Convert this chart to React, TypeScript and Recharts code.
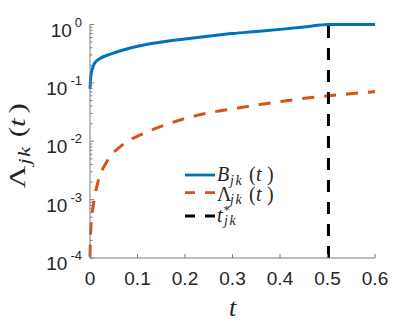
import React from "react";
import { LineChart, Line, XAxis, YAxis, Legend } from "recharts";

// B_jk(t)
const bTimes = [0, 0.0015, 0.005, 0.01, 0.021, 0.04, 0.07, 0.1, 0.147, 0.2, 0.253, 0.3, 0.35, 0.4, 0.45, 0.502, 0.55, 0.6];
const bValues = [0.079, 0.126, 0.175, 0.219, 0.262, 0.305, 0.366, 0.423, 0.495, 0.565, 0.635, 0.7, 0.76, 0.825, 0.905, 1.0, 1.0, 1.0];

// Lambda_jk(t)
const lamTimes = [0, 0.0015, 0.007, 0.016, 0.035, 0.067, 0.112, 0.158, 0.2, 0.253, 0.312, 0.361, 0.41, 0.456, 0.502, 0.547, 0.6];
const lamValues = [1.05e-4, 3e-4, 8e-4, 1.9e-3, 4.4e-3, 8.5e-3, 0.0135, 0.019, 0.0245, 0.031, 0.037, 0.043, 0.049, 0.055, 0.06, 0.065, 0.071];

// t*_jk vertical marker
const tStar = 0.502;
const tStarRange = [1e-4, 1];

const xTicks = [0, 0.1, 0.2, 0.3, 0.4, 0.5, 0.6];
const yDecades = [1e-4, 1e-3, 1e-2, 1e-1, 1];

const bData = bTimes.map((t, i) => ({ t, v: bValues[i] }));
const lamData = lamTimes.map((t, i) => ({ t, v: lamValues[i] }));
const starData = tStarRange.map((v) => ({ t: tStar, v }));

// log axis minor ticks (2..9 per decade)
const yTicks: number[] = [];
yDecades.forEach((d, i) => {
  yTicks.push(d);
  if (i < yDecades.length - 1) for (let m = 2; m <= 9; m++) yTicks.push(m * d);
});

const AXIS = "#7d7d7d";
const TXT = "#262626";
const SANS = "'Liberation Sans', Arial, Helvetica, sans-serif";
const SERIF = "'Liberation Serif', 'Times New Roman', serif";

const isDecade = (v: number) => Math.abs(Math.log10(v) - Math.round(Math.log10(v))) < 1e-6;

const LeftTick = ({ x, y, payload }: any) => {
  const v = payload.value;
  const major = isDecade(v);
  return (
    <g>
      <line x1={x} x2={x + (major ? 4 : 2.5)} y1={y} y2={y} stroke={AXIS} />
      {major && (
        <text x={x - 8} y={y + 12} textAnchor="end" fontFamily={SANS} fontSize={19} fill={TXT}>
          10
          <tspan dx={3} dy={-10} fontSize={13}>
            {Math.round(Math.log10(v))}
          </tspan>
        </text>
      )}
    </g>
  );
};

const RightTick = ({ x, y, payload }: any) => (
  <line x1={x} x2={x - (isDecade(payload.value) ? 4 : 2.5)} y1={y} y2={y} stroke={AXIS} />
);

const BottomTick = ({ x, y, payload }: any) => (
  <g>
    <line x1={x} x2={x} y1={y} y2={y - 4} stroke={AXIS} />
    <text x={x} y={y + 27} textAnchor="middle" fontFamily={SANS} fontSize={19} fill={TXT}>
      {payload.value}
    </text>
  </g>
);

const TopTick = ({ x, y }: any) => <line x1={x} x2={x} y1={y} y2={y + 4} stroke={AXIS} />;

const YLabel = ({ viewBox }: any) => {
  const bx = viewBox.x + 25;
  const by = viewBox.y + viewBox.height / 2 + 47;
  return (
    <text
      transform={`translate(${bx},${by}) rotate(-90) scale(1.35,1)`}
      fontFamily={SERIF}
      fontSize={23}
      fill={TXT}
    >
      <tspan x={0} y={0}>Λ</tspan>
      <tspan x={17.5} y={5} fontSize={17} fontStyle="italic" letterSpacing={1}>jk</tspan>
      <tspan x={37.8} y={0}>(</tspan>
      <tspan x={45.3} y={0} fontStyle="italic">t</tspan>
      <tspan x={55.3} y={0}>)</tspan>
    </text>
  );
};

const XLabel = ({ viewBox }: any) => (
  <text x={viewBox.x + viewBox.width / 2} y={viewBox.y + 58} textAnchor="middle" fontFamily={SERIF} fontSize={26} fontStyle="italic" fill={TXT}>
    t
  </text>
);

const legendLabels = [
  (y: number) => (
    <text y={y} fontFamily={SERIF} fontSize={20} fill={TXT}>
      <tspan x={37} fontStyle="italic">B</tspan>
      <tspan x={50} dy={3.5} fontSize={14} fontStyle="italic" letterSpacing={1.5}>jk</tspan>
      <tspan x={69} dy={-3.5}>(</tspan>
      <tspan x={76} fontStyle="italic">t</tspan>
      <tspan x={87}>)</tspan>
    </text>
  ),
  (y: number) => (
    <text y={y} fontFamily={SERIF} fontSize={20} fill={TXT}>
      <tspan x={37}>Λ</tspan>
      <tspan x={50} dy={3.5} fontSize={14} fontStyle="italic" letterSpacing={1.5}>jk</tspan>
      <tspan x={69} dy={-3.5}>(</tspan>
      <tspan x={76} fontStyle="italic">t</tspan>
      <tspan x={87}>)</tspan>
    </text>
  ),
  (y: number) => (
    <text y={y} fontFamily={SERIF} fontSize={20} fill={TXT}>
      <tspan x={37} fontStyle="italic">t</tspan>
      <tspan x={43.5} dy={-8} fontSize={13}>*</tspan>
      <tspan x={44} dy={11} fontSize={14} fontStyle="italic" letterSpacing={1.5}>jk</tspan>
    </text>
  ),
];
const legendLineY = [15, 32.7, 56];
const legendTextY = [21, 40.7, 61.7];

const renderLegend = ({ payload }: any) => (
  <svg width={110} height={75} style={{ overflow: "visible" }}>
    {(payload || []).map((entry: any, i: number) => (
      <g key={`leg-${i}`}>
        <line
          x1={5}
          x2={35}
          y1={legendLineY[i]}
          y2={legendLineY[i]}
          stroke={entry.color}
          strokeWidth={2.8}
          strokeDasharray={i === 0 ? undefined : "10 10"}
        />
        {legendLabels[i](legendTextY[i])}
      </g>
    ))}
  </svg>
);

export default function App() {
  return (
    <div style={{ position: "absolute", left: 0, top: 0, width: 415, height: 328, background: "#fff" }}>
      <LineChart width={415} height={328} margin={{ top: 24.5, right: 40, bottom: 0, left: 0 }}>
        <XAxis
          type="number"
          dataKey="t"
          domain={[0, 0.6]}
          ticks={xTicks}
          interval={0}
          height={70}
          tickSize={0}
          tickMargin={0}
          tickLine={false}
          axisLine={{ stroke: AXIS }}
          tick={(p: any) => <BottomTick {...p} />}
          label={(p: any) => <XLabel {...p} />}
        />
        <XAxis
          xAxisId="top"
          orientation="top"
          type="number"
          dataKey="t"
          domain={[0, 0.6]}
          ticks={xTicks}
          interval={0}
          height={0}
          tickSize={0}
          tickMargin={0}
          tickLine={false}
          axisLine={{ stroke: AXIS }}
          tick={(p: any) => <TopTick {...p} />}
        />
        <YAxis
          type="number"
          scale="log"
          domain={[1e-4, 1]}
          ticks={yTicks}
          interval={0}
          width={90}
          tickSize={0}
          tickMargin={0}
          tickLine={false}
          axisLine={{ stroke: AXIS }}
          tick={(p: any) => <LeftTick {...p} />}
          label={(p: any) => <YLabel {...p} />}
        />
        <YAxis
          yAxisId="right"
          orientation="right"
          type="number"
          scale="log"
          domain={[1e-4, 1]}
          ticks={yTicks}
          interval={0}
          width={0}
          tickSize={0}
          tickMargin={0}
          tickLine={false}
          axisLine={{ stroke: AXIS }}
          tick={(p: any) => <RightTick {...p} />}
        />
        <Line
          data={bData}
          dataKey="v"
          name="B"
          type="monotone"
          stroke="#0072BD"
          strokeWidth={3}
          dot={false}
          isAnimationActive={false}
        />
        <Line
          data={lamData}
          dataKey="v"
          name="Lambda"
          type="monotone"
          stroke="#D95319"
          strokeWidth={3}
          strokeDasharray="12 10"
          dot={false}
          isAnimationActive={false}
        />
        <Line
          data={starData}
          dataKey="v"
          name="tstar"
          type="linear"
          stroke="#000000"
          strokeWidth={3}
          strokeDasharray="12 10"
          dot={false}
          isAnimationActive={false}
        />
        <Legend
          layout="vertical"
          align="center"
          verticalAlign="middle"
          content={renderLegend}
          wrapperStyle={{ position: "absolute", left: 180, top: 160, width: 110, height: 75 }}
        />
      </LineChart>
    </div>
  );
}
